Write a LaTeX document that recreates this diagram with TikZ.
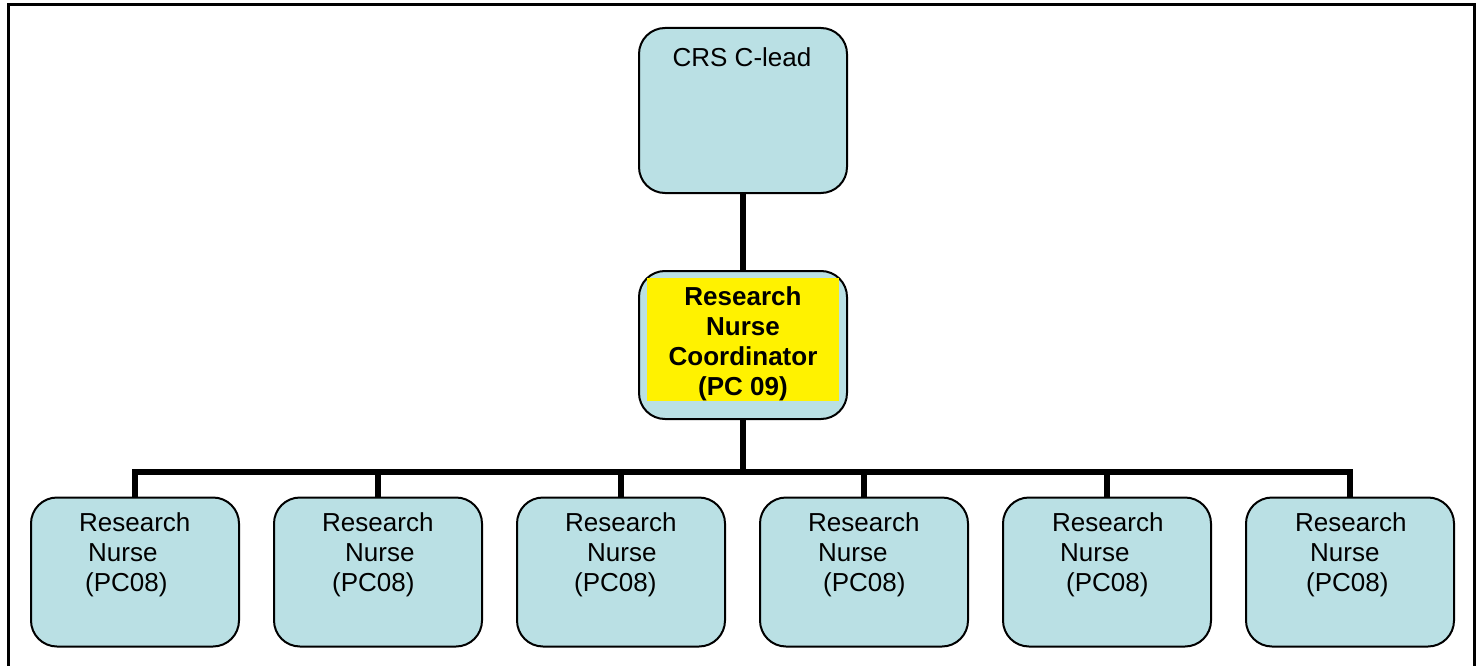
\documentclass[tikz,border=0pt]{standalone}
\usepackage{fontspec}
\setmainfont{Liberation Sans}
\definecolor{boxblue}{RGB}{186,224,228}
\begin{document}
\begin{tikzpicture}[x=1pt,y=-1pt,
  box/.style={draw=black, line width=2pt, fill=boxblue, rounded corners=26pt, minimum width=208pt, inner sep=0pt},
  conn/.style={draw=black, line width=6pt},
  frame/.style={draw=black, line width=3pt},
  txt/.style={inner sep=0pt, font=\fontsize{26}{30}\selectfont},
  btxt/.style={inner sep=0pt, align=center, font=\fontsize{26}{30}\selectfont\bfseries},
  ntxt/.style={inner sep=0pt, align=left, anchor=north west, font=\fontsize{26}{30}\selectfont}]
\useasboundingbox (0,0) rectangle (1477,666);
\draw[frame] (8,670) -- (8,5) -- (1474,5) -- (1474,670);
% boxes
\node[box, minimum height=165pt] (top) at (743,110.5) {};
\node[box, minimum height=148pt] (mid) at (743,345) {};
\node[fill=yellow, minimum width=192pt, minimum height=123pt, inner sep=0pt] (hl) at (743,339.5) {};
\foreach \i/\x in {1/135,2/378,3/621,4/864,5/1107,6/1350}{
  \node[box, minimum height=149pt] (b\i) at (\x,572) {};
}
\coordinate (bar) at (743,472);
% connectors
\draw[conn] (top.south) -- (mid.north);
\foreach \i in {1,...,6}{
  \draw[conn] (mid.south) -- (mid.south |- bar) -| (b\i.north);
}
% texts
\node[txt, anchor=north] (ttop) at (742,47) {CRS C-lead};
\node[btxt, anchor=north] (tmid) at (743,286) {Research\\Nurse\\Coordinator\\(PC 09)};
\node[ntxt] (t1) at (79,512) {Research\\\hspace*{9pt}Nurse\\\hspace*{6pt}(PC08)};
\node[ntxt] (t2) at (322,512) {Research\\\hspace*{23pt}Nurse\\\hspace*{10pt}(PC08)};
\node[ntxt] (t3) at (565,512) {Research\\\hspace*{22pt}Nurse\\\hspace*{9pt}(PC08)};
\node[ntxt] (t4) at (808,512) {Research\\\hspace*{10pt}Nurse\\\hspace*{15pt}(PC08)};
\node[ntxt] (t5) at (1052,512) {Research\\\hspace*{8pt}Nurse\\\hspace*{14pt}(PC08)};
\node[ntxt] (t6) at (1295,512) {Research\\\hspace*{15pt}Nurse\\\hspace*{11pt}(PC08)};
\end{tikzpicture}
\end{document}
